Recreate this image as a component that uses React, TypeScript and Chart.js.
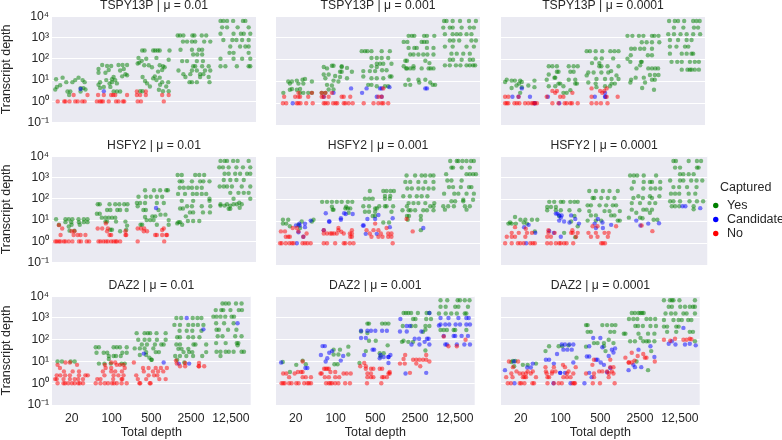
import React, { useEffect, useRef } from "react";
import { Chart, registerables } from "chart.js";

Chart.register(...registerables);

const categories = ["20", "100", "500", "2500", "12,500"];
const genes = ["TSPY13P", "HSFY2", "DAZ2"];
const mus = ["0.01", "0.001", "0.0001"];
const decades = [0.1, 1, 10, 100, 1000, 10000];
const decadeLabels = ["10⁻¹", "10⁰", "10¹", "10²", "10³", "10⁴"];
const classes = ["Yes", "Candidate", "No"];

// Each row: [transcript depth, x positions of the jittered points at that depth]
const tspy01Yes = [
  [13, -.24, .15], [11, -.4], [10, .07, .25], [8, -.15, 0, .3], [5.7, -.3], [4.8, -.38], [4.2, .2, .27], [3.6, -.42, .32], [2.9, -.12, -.05, .2], [2, -.08],
  [51, .73, 1.13, 1.23, 1.34], [46, .85, .95], [33, .64, 1.26], [30, .89], [28, 1.17], [22, .64, .81], [19, 1.3], [17, 1.34], [15, 1.22], [14, 1.01], [11, .97], [10, .83, 1.05], [8, .97, .68], [7, .91, 1.09], [6, .64], [4.8, .77, .93], [4.3, .68], [2.9, 1.01, 1.09, 1.17],
  [247, 1.71, 1.77, 1.98, 2.03, 2.09, 2.14, 2.38], [110, 1.62, 2.06], [100, 1.81], [90, 2.36], [66, 1.64], [60, 1.6], [80, 1.7], [50, 1.76, 1.87, 2.14], [45, 2.22], [40, 1.95, 2.26], [30, 2.2], [25, 2.1], [15, 2.02], [14, 1.72], [13, 2.14], [12, 1.98], [10, 2.06], [9, 1.78], [8, 2.2, 2.35], [7, 1.83], [6, 2.15], [5, 1.9, 2.3], [3.5, 2.12], [3, 1.66, 1.72, 2.22, 2.36],
  [1250, 2.58, 2.64, 2.72, 2.94, 2.99, 3.17, 3.28], [640, 2.71, 2.81, 2.93, 3.01, 3.23, 3.38], [265, 2.65, 2.93, 3.1, 3.18], [158, 2.96, 3.06, 3.18], [78, 2.69, 2.81, 3.05, 3.2], [45, 2.96, 3.01, 3.18, 3.34], [28, 2.6, 2.93, 3.05, 3.25, 3.38], [19, 2.72, 2.89, 3.13, 3.21], [14, 2.77, 3.13, 3.34], [8, 2.87, 2.93, 3.05, 3.36],
  [6000, 3.63, 3.7, 3.79, 3.94, 4.18, 4.24], [3000, 3.67, 3.79, 4.05, 4.32], [1500, 3.63, 3.95, 4.13, 4.2, 4.36], [760, 3.7, 3.92, 4.02, 4.16, 4.32], [375, 3.87, 4.11, 4.24, 4.32], [190, 3.85, 3.95, 4.32], [100, 3.63, 3.95, 4.16, 4.36], [45, 3.63, 3.75, 4.03, 4.32, 4.36],
];
const tspy01Candidate = [[3.8, .2], [3, .77]];
const tspy01No = [
  [1, -.36, -.2, -.17, -.07, .07, .13, .24, .3, .6, .67, .71, .75, .89, 1.07, 1.13, 1.24, 1.27, 1.6, 1.68, 2.24],
  [2, .03, .37, .63, .77, .95, 1, 1.05, 1.34, 1.58, 1.66, 1.8, 2.2, 2.36], [2.9, 1.58, 1.8],
];

const tspy001Yes = [
  [10, -.2, -.11], [11, .01], [12, .15], [13, .21], [10, .38], [8, -.16, .05, .17], [4.5, -.11, .09], [4.2, -.16, .01], [3, -.32, .09, .17, .29, .38],
  [53, .87, .91], [46, .67, 1.11], [40, .75], [50, 1.11], [42, 1.24], [28, 1.07, 1.11, 1.36], [21, .67, .79], [18, .95], [16, 1.07], [14, .71, 1.24], [11, .91], [10, 1.03], [7, .75], [6.5, .87], [4.3, .79, .91], [3, .62, .71],
  [247, 1.6, 1.68, 1.74, 1.84, 2.09, 2.29], [120, 1.84, 1.97, 2.09, 2.25], [65, 1.97, 2.05, 2.13, 2.33], [50, 1.84], [46, 1.97], [33, 2.1, 2.21], [30, 1.64, 1.8, 1.93], [17, 1.64, 2.29, 2.33], [14, 1.84, 1.97, 2.13], [7, 1.76, 1.84], [6, 1.97, 2.17, 2.25],
  [1250, 2.75, 2.83, 2.89, 3.13, 3.2, 3.38], [660, 2.63, 2.72, 3.07, 3.13, 3.2], [350, 2.75, 2.89, 2.95, 3.2, 3.36], [175, 2.79, 2.87, 2.99, 3.11, 3.21, 3.36], [90, 2.71, 2.67, 3.16], [70, 3.26], [50, 2.87, 2.63], [40, 2.71, 2.69, 2.79, 2.87, 3.07, 3.24, 3.36, 3.29], [12, 2.75, 2.99, 3.16], [9, 3.01, 3.28], [7, 2.79, 3.4, 3.34, 2.67],
  [6000, 3.62, 3.68, 3.83, 4.01, 4.23, 4.4], [3000, 3.6, 3.76, 3.83, 4.05, 4.25, 4.35], [1500, 3.64, 3.83, 3.93, 4.02, 4.17, 4.29], [760, 3.76, 3.85, 3.99, 4.29, 4.4], [400, 3.64, 3.83, 4.17, 4.35], [190, 3.8, 3.93, 4.09, 4.25], [100, 3.76, 3.84, 4.05, 4.25, 4.33], [55, 3.64, 3.76, 3.91, 4.02, 4.17, 4.25, 4.33, 4.38],
];
const tspy001Candidate = [
  [1, -.09], [2, .67, 1.97, 2.09], [3, .91, 1.61], [4.8, 1.34, 1.72, 2.05, 2.09], [5.5, 2.28], [4.8, 3.16, 3.2],
];
const tspy001No = [
  [1, -.33, -.25, .01, .05, .1, .24, .4, .67, .71, .77, .9, .96, 1, 1.16, 1.2, 1.28, 1.38, 1.65, 1.89, 2.01, 2.09, 2.13, 2.25],
  [2, -.3, -.03, .05, .09, .29, .62, .67, .79, 1.11, 1.16, 1.32, 2.01, 2.09], [3, .05, .38, .62, .71, .87], [4.8, 2.13],
];

const tspy0001Yes = [
  [12, -.36], [11, -.24, -.16, -.03, .32], [9.5, -.4, .01], [5, -.24], [8, -.06], [6.5, -.12, .17], [5.5, .01, .32], [3, -.03],
  [50, .76, .87, .67, 1.16, 1.28, 1.38], [28, .87, .91, 1.2, 1.28], [21, .67], [15, .83, .81], [12, .62, 1.16, 1.32], [8, .91, .95, 1.36, 1.32], [6, .83, 1.03, .67], [4, 1.2], [3, 1.03, 1.11],
  [247, 1.6, 1.68, 1.82, 1.98, 2.18, 2.28, 2.38], [115, 1.82, 1.97, 2.25], [70, 1.73, 1.91], [50, 1.91, 1.96, 2.11, 2.38], [30, 2.2], [26, 1.64, 1.77, 1.96, 2.13], [19, 2.33, 1.6], [13, 1.84, 2.05, 2.21, 2.38], [9, 1.64], [8, 1.82, 2.21, 2.29], [6, 2.05, 2.17], [5.5, 1.84],
  [1250, 2.6, 2.72, 2.88, 2.99, 3.2, 3.26, 3.36], [640, 2.95, 3.07, 3.2, 3.38], [320, 2.78, 2.91, 3.01, 3.2, 2.69], [160, 2.68, 3.1, 3.2], [110, 2.6], [80, 2.67, 2.93, 2.95], [55, 2.91], [40, 3.2, 3.11, 2.82, 3.35, 3.28], [20, 3.36, 3.27, 3.15], [15, 2.8, 3], [12, 2.69, 3.2, 3.27], [9, 2.67, 3.03], [5, 2.96], [4.2, 3.25],
  [6000, 3.62, 3.76, 3.84, 3.99, 4.21, 4.29, 4.37], [3000, 3.74, 3.97, 4.23, 4.33], [1500, 3.6, 3.74, 3.9, 4.05, 4.21, 4.38], [800, 3.64, 3.84, 4.05, 4.17], [400, 3.64, 3.8, 4.01, 4.09], [190, 3.64, 3.93, 4.05, 4.17, 4.21], [80, 3.68, 3.82, 3.93, 4.13, 4.25, 4.35], [35, 3.93, 4.13, 4.17, 4.25, 4.07, 4.35],
];
const tspy0001Candidate = [
  [1, .32, .33, .93], [2, -.22, -.07, .21, .65, 1.8, 2.05], [4.8, .01], [3, 2.05], [2, 2.06],
];
const tspy0001No = [
  [1, -.4, -.36, -.32, -.17, -.11, -.05, .09, .17, .25, .29, .33, .38, .76, .91, 1.06, 1.11, 1.2, 1.24, 1.38, 1.72, 1.84, 1.95, 2.11],
  [2, -.4, -.32, -.07, .62, .95, 1.03, 1.72, 2.36, 2.09], [3.7, .76, .87, 1.93, 2.03], [4.8, 1.72, 2.09], [3, .83, 1.25, 1.98],
];

const hsfy01Yes = [
  [11, -.4, -.17, -.09, 0, .15, .28, .37], [8, -.17, -.03, .16, .28, .37], [6, -.33, -.02, .18], [5, -.09], [3.2, -.07, .05],
  [55, .62, .67, .91, 1.05, 1.15, 1.27, 1.35], [30, 1.33, 1.17, 1.1, .93, .85], [20, .6, .67], [13, .81, .89, .97, 1.05, .72], [8.5, .85, 1.07, .81, 1.3], [5.5, 1.34], [3, 1.17], [3.5, .93, .97, 1.32],
  [250, 1.78, 2, 2.15, 2.3, 2.34], [125, 1.62, 1.8, 1.92, 2.07, 2.2], [63, 1.58, 1.66, 1.78, 2.07, 2.24], [45, 1.6], [30, 1.74, 1.8], [15, 1.96, 2.03], [30, 2.11], [10, 1.91, 1.99, 1.82, 2.36], [18, 2.16, 2.28], [6, 1.71, 1.67, 2.07, 2.36], [14, 1.78],
  [1320, 2.58, 2.68, 3.01, 3.11, 3.23], [660, 2.69, 2.63, 2.93, 3.13, 3.21, 3.36], [330, 2.63, 2.73, 2.84, 2.93, 3.05, 3.17], [170, 2.59, 2.76, 2.95, 3.17, 3.05, 3.28], [80, 3.36, 2.68, 2.96], [100, 3.36], [45, 2.81, 2.93, 3.17, 3.38], [35, 2.64, 2.71], [23, 2.88, 2.96, 3.2, 3.37], [15, 2.78], [9, 2.83, 2.96, 3.11], [8, 2.6, 2.64], [6, 2.69], [7, 2.57],
  [6000, 3.63, 3.73, 3.79, 3.94, 4.05, 4.32], [3000, 3.6, 3.69, 3.83, 4.02, 4.18, 4.36], [1500, 3.73, 3.83, 3.99, 4.11, 4.28, 4.36], [760, 3.71, 3.87, 4.02, 4.2], [380, 3.61, 3.71, 3.79, 3.91, 4.15, 4.36], [190, 3.87, 4.07, 4.2, 4.32], [100, 3.95, 4.36], [55, 3.63, 3.79, 3.95, 4.15, 4.03], [48, 3.63, 3.73, 3.87], [38, 4.1], [65, 4.09], [34, 3.83, 3.87],
];
const hsfy01Candidate = [[37, 2.05]];
const hsfy01No = [
  [1, -.42, -.38, -.33, -.29, -.21, -.17, -.09, 0, .16, .21, .35, .41, .64, .69, .76, .82, .87, .95, 1.01, 1.06, 1.09, 1.17, 1.6, 2.25],
  [2, -.29, .03, .32, .13, .2, .95, 1.3, 1.32, .91, 2.03, 2.07, 2.2, 2.3, 2.32], [3, .05, -.02, .85, 1.3, 1.83, 1.75], [4, -.25, .62, .73, .87, 1.6, 1.68, 1.76, 2.24], [5.8, -.33], [7, .82], [3.4, 2.2],
];

const hsfy001Yes = [
  [12, -.33, -.2], [8, -.33, -.25], [10, .13, .38], [12, .42], [7, .05], [5, .09], [6, -.16],
  [80, .63, .75, .87, .99, 1.11, 1.26, 1.37], [48, .87, 1.22], [35, .89, .91], [40, 1.26, 1.2, 1.32], [25, 1.28],
  [250, 1.8, 2.13, 2.21, 2.31, 2.39], [110, 1.68, 1.78, 1.87, 2.17, 2.29], [150, 2.17, 2.3], [50, 1.64, 1.78, 2.17, 2.21, 2.37, 2.03], [40, 1.97, 1.93], [28, 1.68, 1.78, 1.93, 2.33], [18, 1.93, 1.87], [9, 2.13, 2.27],
  [1300, 2.7, 2.91, 3.07, 3.16, 3.28, 3.36], [660, 2.67, 2.79, 2.99, 3.16, 3.36], [330, 2.72, 2.83, 2.99, 3.11, 3.24, 3.36], [145, 2.62, 2.78, 2.95, 3.07, 3.21], [70, 2.87, 2.75, 2.99, 3.16, 3.38], [50, 2.71, 3.28, 3.36], [33, 2.6, 2.75, 2.91, 2.8, 3.11, 3.2, 3.36], [18, 3.05, 2.71, 2.76], [12, 2.73, 3.05], [4, 3.05],
  [6000, 3.77, 3.93, 3.97, 4.07, 4.17, 4.28, 4.35], [3000, 3.8, 3.84, 4.05, 4.25], [1500, 3.67, 4.17, 4.25, 4.33, 4.4], [760, 3.7, 3.8, 4.05], [380, 3.74, 3.84, 4.03, 4.23, 4.29], [190, 3.62, 3.87, 3.97, 4.17, 4.35], [100, 4.09, 4.33], [85, 3.89, 3.8, 4.09], [50, 3.6, 3.72, 3.86, 4.13, 4.25], [35, 3.64, 4.17]
];
const hsfy001Candidate = [
  [11, .35], [8, .21], [5.5, .21], [8, .07], [6.5, -.01, .08], [3.2, .05], [2, .17], [1, .01],
  [24, .72, 1.17], [10, .8, .81], [14, 1.09], [22, 1.38, 1.21], [12, 1.09], [4, .67],
  [6.5, 1.65, 1.63], [13, 1.74, 1.93], [20, 2.01], [14, 2.36], [5.5, 2.29], [2.7, 1.7, 1.97], [5, 3.11],
];
const hsfy001No = [
  [1, -.4, -.36, -.26, -.17, -.11, -.07, .15, .21, .27, .35, .67, .75, .95, 1.16, 1.2, 1.31, 1.4, 2.36],
  [2, -.26, -.2, -.16, .17, 1.32, 1.36, 1.84, 2.01, 2.11, 2.25, 2.33], [2.8, .75, .83, .87, .92, .99, 1.31, 1.36, .67, 1.16, 1.8, 2.07, 2.25, 2.33, .25],
  [3.5, .05, -.38, -.28, 2.85], [5, -.09, .01, 2.21, 1.03], [4, .67, 1.03, 1.36, 1.72, 1.89, 2.01], [8, 1.93], [3.4, 1.1], [13, 2.7],
];

const hsfy0001Yes = [
  [16, -.16], [9, -.28, .05], [12, -.03, .09, .25, .38], [8, -.32, .13, -.24, -.14], [3.5, .32],
  [80, .67, .79, 1.01, 1.18, 1.28, 1.36, .95], [46, .62, .71, .83], [33, .62, .83, .95, 1.16, 1.4], [18, .91, 1.28], [10, 1.2], [3, 1.03], [6, 1.36], [1.9, 1.3],
  [250, 1.64, 1.8, 1.97, 2.13, 2.33], [120, 1.76, 1.72, 1.93, 2.09, 2.25], [55, 1.68, 1.6, 1.89, 2.05, 2.21, 2.29], [30, 1.64, 2.01, 2.13, 2.38], [19, 1.68, 1.8, 2.17, 2.25], [11, 1.6, 1.8, 1.93, 2.38, 2.33],
  [1300, 2.63, 2.72, 2.8, 2.96, 3.26], [660, 2.72, 2.96, 3.11, 3.16, 3.36], [330, 2.67, 2.95, 3.13, 3.24, 3.36], [145, 2.83, 3.11, 3.34], [120, 2.71, 2.94, 3.16], [70, 2.67, 2.87, 3.1, 3.24], [35, 3.16, 2.67, 2.95, 3.03], [25, 3.11, 2.78], [15, 2.6, 2.87], [14, 2.93], [12, 3.29, 3.2],
  [6000, 3.68, 3.74, 4.05, 4.25, 4.35], [3000, 3.72, 3.84, 4.25, 4.29], [1500, 3.84, 3.92, 4.05, 4.17], [760, 3.6, 3.84, 3.92, 4.11, 4.24, 4.38], [380, 3.68, 3.82, 4.01, 4.24], [190, 3.62, 3.72, 3.82, 4.05, 4.21], [85, 3.6, 3.68, 3.84, 4.07, 4.25, 4.4], [50, 3.64, 3.72, 3.82, 4.17], [36, 4.17],
];
const hsfy0001Candidate = [
  [1, .11], [5.5, .06], [3, .33], [7, .17],
  [3, .78], [2, .95], [3.7, .67], [23, .87, .83], [19, .91, .97, 1.2], [11, .91], [10, 1.03], [9, 1.16], [13, 1.3], [8, 1.39], [15, .95],
  [13, 1.85], [8, 1.77], [9, 1.96], [7, 2.17], [5, 1.8, 1.97], [50, 3.9, 3.97], [41, 4.33], [11, 2.78], [6.5, 2.88], [8, 3.07], [8.3, 3.33],
];
const hsfy0001No = [
  [1, -.4, -.24, -.09, -.03, .05, .21, .27, .32, .62, .71, .83, .91, .95, 1.03, 1.09, 1.25, 1.93, 1.97, 2.02],
  [2, -.36, -.24, .09, -.16, .62, .71, 1.32, 1.68, 1.84, 2.09], [3, -.24, -.07, .13, .25, .65, .8, 1.2, 1.24, 1.36, 1.62, 1.8, 2.01, 2.11], [5.5, -.16], [4.6, .1], [4, .65, 1.23], [6, 1.72, 1.84, 2.29], [3.6, 3.17], [6.5, 2.91],
];

const daz01Yes = [
  [10, -.36, -.25, -.03, .07],
  [45, .6, .68, 1.05, 1.13, 1.21, 1.38], [25, .62, .8, .89, 1.27, 1.38], [18, .93, 1.05, 1.11, 1.23], [8, .68, .82, .98, 1.25, 1.33], [13, .93],
  [200, 1.63, 1.83, 1.91, 1.97, 2.13, 2.36], [100, 1.67, 1.83, 1.95, 2.14, 2.36], [60, 1.76, 1.89, 2.09, 2.25, 2.31], [40, 1.58, 1.71, 1.83, 2.05], [27, 1.87, 2.11, 2.19], [20, 1.71, 1.87], [15, 1.95], [12, 2, 2.01],
  [1000, 2.63, 2.75, 3.04, 3.16, 3.26], [480, 2.58, 2.72, 2.93, 3.05, 3.17, 3.31], [260, 3.26], [260, 2.71, 2.89, 3.03], [130, 2.65, 2.72, 2.93, 3.05, 3.21], [60, 2.63, 2.72, 3.06, 3.38, 3.11], [38, 2.93, 2.68, 2.76], [27, 2.81, 2.95, 3.03, 3.38], [18, 2.6, 2.72, 2.88, 3.05, 3.28], [12, 2.65], [9, 2.83],
  [4600, 3.79, 3.87, 3.95, 4.13, 4.27], [2300, 3.62, 3.76, 3.81, 3.99, 4.2, 4.28], [1150, 3.56, 3.64, 3.74, 3.86, 4.02, 4.08], [570, 3.63, 3.83, 4.07], [285, 3.64, 3.7, 3.93, 4.14], [145, 3.67, 3.79, 4.11, 4.27], [70, 3.63, 3.87, 4.15, 4.19], [28, 3.64, 3.74, 3.87, 3.95, 4.07, 4.27, 4.33], [55, 4.17], [18, 3.74],
];
const daz01Candidate = [[1000, 2.89], [300, 3.31], [8, 2.69, 2.95], [23, 1.81], [9, 2.31], [570, 4.17]];
const daz01No = [
  [1, -.36, -.21, -.17, -.09, 0, .07, .16, .2, .28, .6, .72, .83, .91, 1.01, 1.06, 1.13, 1.25, 1.38, 1.7, 1.72, 1.96, 1.98],
  [1.55, -.38, -.42, -.21, -.05, .07, .16, .28, .64, .72, 1.04, 1.25, 1.27, 1.66, 1.87, 2.2, 2.36], [2.3, -.38, -.29, -.17, -.05, .18, .34, .4, .82, 1.05, 1.17, 1.3, 1.62, 1.93, 2.07, 2.15],
  [3.5, .78, .99, 1.09, 1.26, 1.81, 2.04, 2.17, 2.3, -.2, .02, .18], [5, -.3, .85, .99, 1.33, 1.79, 1.93, 2.11, 2.24, 2.39], [7, .13, -.36, .83, 1.13, 1.21, 1.3], [9, -.16, -.05, .99, 1.09, 1.56], [8, 2.64], [11, 2.62], [6, 2.72, 3.2, 3.19, 3.33, 2.85], [8.5, 2.85, 3.2],
];

const daz001Yes = [
  [9.5, -.33], [7, .01], [11, .17], [7.5, .25], [3.3, -.15],
  [35, .95, 1.11], [48, 1.32], [21, .95, 1.07, 1.32], [7.5, .97, 1.05],
  [550, 1.8, 1.84, 2.17, 2.25, 2.33], [240, 1.64], [90, 1.84, 2.01], [24, 2.11, 2.21], [55, 2.31], [8.5, 1.6], [30, 1.76], [17, 2.13], [205, 1.8],
  [1700, 2.71, 2.77, 2.83, 2.9, 3.07, 3.29, 3.36], [900, 2.95, 3.01, 3.28, 3.4], [430, 2.69, 2.91, 3.01, 3.26, 3.36], [290, 3.26], [230, 3.2], [80, 2.67, 2.83, 2.95], [32, 3.26], [90, 2.71],
  [6500, 3.64, 3.81, 4.07, 4.13, 4.25, 4.37], [3300, 3.64, 3.77, 4.01, 4.09, 4.33], [1600, 3.6, 3.77, 3.91, 4.05, 4.25, 4.29], [280, 3.64, 3.72, 3.8, 3.97, 4.01, 4.29],
];
const daz001Candidate = [
  [5, .24, .29], [9, -.37],
  [51, .67, .73], [25, .84], [20, .63], [14, .79], [10, .75], [30, .91], [18, 1.19], [11, 1.13],
  [260, 1.64, 1.8, 1.89, 2, 2.17, 2.29], [120, 1.64, 1.76], [35, 1.93, 1.97], [20, 1.72, 2.13, 2.38], [16, 2.33, 2.21, 2.33], [8.5, 2.33], [14, 2.11],
  [1700, 3.36], [900, 2.63], [430, 2.79, 2.87], [240, 2.62, 2.79, 3.16], [110, 2.99, 3.1, 3.3, 3.34], [60, 2.91, 3.11, 3.36], [80, 3.24], [2.8, 2.76], [3, 3.28],
  [1000, 3.64, 3.84, 4.09, 4.29, 4.35], [500, 3.64, 3.76, 3.86, 4.02, 4.13, 4.29, 4.38], [450, 3.6], [150, 3.72, 3.97, 4.01, 4.17, 4.33], [60, 3.76, 3.8, 4.05, 4.24, 4.38],
];
const daz001No = [
  [1, -.36, -.32, -.28, -.17, -.11, .01, .07, .21, .29, .33, .38, .76, .83, .87, .91, .99, 1.07, 1.24, 1.36, 1.79, 2.15],
  [1.9, -.17, .17, .25, .38, .73, .83, .99, 1.09, 1.8, 1.89, 1.95, 2.17, 2.21, 2.29], [2.8, -.32, -.24, -.03, .62, .65, 1.2, 1.28, 1.38, 1.8, 1.89, 2.33, 2.36], [3.3, .05, .13, .17, .99, .87, 2.36],
  [4.6, .71, .75, .79, .83, 1.76, 1.89, 1.95, 2.11, 2.17], [6, 1.62, 1.76], [8.5, 1.72], [10, .17], [8, 2.62, 2.74, 3.03], [13, 2.71], [20, 2.75, 3.28], [12, 2.95, 3.03, 3.11, 3.2, 3.28], [10, 3.36], [6, 3.13], [3, 2.87],
  [140, 3.72], [100, 4.27], [50, 3.84, 4.05],
];

const daz0001Yes = [
  [10.5, -.2, -.14], [7, .17, .05], [8, .38], [9.5, -.24], [6, -.17],
  [30, .62], [50, .71, .95, 1.04], [55, 1.2], [15, 1.4],
  [470, 1.64, 1.68, 2.05, 2.17, 2.29, 2.38], [230, 1.68, 1.76, 2.25, 2.35], [48, 1.64], [70, 1.84, 1.93, 2.09, 2.33], [50, 2.09], [30, 2.13], [100, 2.21],
  [1700, 2.79, 2.87, 2.96, 3.01, 3.05, 3.09], [900, 2.72, 2.83, 2.93, 3.16, 3.26, 3.38], [430, 2.88, 2.95, 3.07, 3.26, 3.4], [190, 2.59, 2.63, 2.96, 3.2, 3.36], [120, 3.01], [85, 2.75, 2.87, 3.08, 3.16, 3.22, 3.36], [10, 2.91], [4, 3.2], [30, 3.28],
  [6500, 3.6, 3.75, 3.8, 3.84, 3.99, 4.38], [3300, 3.72, 3.8, 4.01, 4.13, 4.25, 4.33, 4.38], [1600, 3.64, 3.78, 3.89, 4.09, 4.17, 4.38], [800, 3.6, 3.84, 3.97, 4.05, 4.21, 4.29], [400, 3.6, 3.68, 3.91, 3.97], [230, 3.68, 3.91, 4.25, 4.33], [85, 4.38],
];
const daz0001Candidate = [
  [1, -.16], [4, -.4], [5.3, .16, .25], [10, -.17], [8, .3],
  [1, .82, 1.25], [60, 1.03, 1.11, 1.22, 1.32], [35, 1.07, 1.17, 1.28], [12, .71, .63], [22, .91], [9, 1.32], [8, .83], [3, .99, 1.11, .99],
  [1, 1.6], [1.9, 1.78], [3, 1.72], [3.2, 2.17], [5, 2.25], [120, 1.82, 2], [50, 1.72], [17, 1.72, 1.66], [12, 1.89, 1.93], [45, 2.05], [9, 2.01], [7, 2.09], [35, 2.29], [26, 2.33], [18, 2.21], [40, 2.37],
  [50, 3.26], [35, 2.96], [16, 3.36], [4, 2.71], [7, 2.83], [5.5, 2.87, 3.03],
  [350, 4.09], [65, 3.72], [85, 3.8], [60, 3.89, 4.13], [65, 4.25], [55, 4.4],
];
const daz0001No = [
  [1, -.33, -.25, -.03, .01, .09, .29, .33, .67, .83, .95, 1.03, 1.3, 1.34, 1.36, 1.81, 1.99, 2.36],
  [1.9, -.37, -.21, .05, .09, .13, .38, .67, .71, 1.07, 1.16, 1.25, 1.84, 2.21], [2.8, -.24, -.03, .05, .13, .25, .65, .78, 1.16, 1.32, 1.64, 1.84, 2.21, 2.33],
  [3.5, -.11, .17, .3, .63, .79, .87, 1.2, 1.97, 2.05, 2.17, 2.29], [5.5, -.2, .62, .83, 1.11, 1.38, 2.25, 2.33], [10, -.3, -.07], [7, 1.06, 1.8], [12, 1.84, 2.25],
  [15, 2.63, 3.12, 3.16], [25, 2.79], [9, 2.71, 2.79], [11, 2.86], [18, 2.94], [22, 3.08], [10, 3.37], [9, 2.72],
  [100, 3.6, 4.09, 4.17], [90, 3.76], [110, 3.88, 4.25], [105, 4.29],
];

const panelData = [
  [tspy01Yes, tspy01Candidate, tspy01No], [tspy001Yes, tspy001Candidate, tspy001No], [tspy0001Yes, tspy0001Candidate, tspy0001No],
  [hsfy01Yes, hsfy01Candidate, hsfy01No], [hsfy001Yes, hsfy001Candidate, hsfy001No], [hsfy0001Yes, hsfy0001Candidate, hsfy0001No],
  [daz01Yes, daz01Candidate, daz01No], [daz001Yes, daz001Candidate, daz001No], [daz0001Yes, daz0001Candidate, daz0001No],
];

const expand = (rows: number[][]) => rows.flatMap(([y, ...xs]) => xs.map((x) => ({ x, y })));

const COLS = [52, 276, 501];
const ROWS = [16, 156, 296];
const PW = 204;
const PH = 109;
const FONT = '"Liberation Sans", Arial, sans-serif';
const INK = "#262626";
const SOLID = ["rgb(0,128,0)", "rgb(0,0,255)", "rgb(255,0,0)"];
const FILL = ["rgba(0,128,0,0.5)", "rgba(0,0,255,0.5)", "rgba(255,0,0,0.5)"];
const LEGEND_W = 77;

const bg = {
  id: "bg",
  beforeDraw(chart: any) {
    const { ctx, chartArea: a } = chart;
    ctx.save();
    ctx.fillStyle = "#EAEAF2";
    ctx.fillRect(a.left, a.top, a.right - a.left, a.bottom - a.top);
    ctx.restore();
  },
};

// The legend box is clipped to its measured width: nudge it right and open it up to the canvas edge.
const legendRoom = {
  id: "legendRoom",
  afterLayout(chart: any) {
    const box = chart.legend;
    if (box && box.options.display) {
      box.left += 2;
      box.right += 6;
      box.width += 4;
    }
  },
};

function Panel({ row, col }: { row: number; col: number }) {
  const ref = useRef<HTMLCanvasElement>(null);
  const first = col === 0;
  const last = row === 2;
  const hasLegend = row === 1 && col === 2;
  const left = first ? 0 : COLS[col];
  const top = ROWS[row] - 16;
  const width = (first ? COLS[0] : 0) + PW + (hasLegend ? LEGEND_W : 0);
  const height = last ? 440 - top : 16 + PH + 8;

  useEffect(() => {
    const chart = new Chart(ref.current as HTMLCanvasElement, {
      type: "scatter",
      data: {
        datasets: classes.map((label, i) => ({
          label,
          data: expand(panelData[row * 3 + col][i]),
          backgroundColor: FILL[i],
          borderWidth: 0,
          pointRadius: 2.2,
          order: 3 - i,
        })),
      },
      plugins: [bg, legendRoom],
      options: {
        animation: false,
        responsive: false,
        layout: { autoPadding: false, padding: { bottom: last ? 0 : 8, right: hasLegend ? 6 : 0 } },
        plugins: {
          tooltip: { enabled: false },
          title: {
            display: true,
            fullSize: false,
            text: `${genes[row]} | μ = ${mus[col]}`,
            color: INK,
            font: { family: FONT, size: 12.2, lineHeight: 1, weight: "normal" },
            padding: { top: 0, bottom: 4 },
          },
          legend: hasLegend
            ? {
                display: true,
                position: "right",
                title: { display: true, text: "Captured", color: INK, font: { family: FONT, size: 12.5 }, padding: { top: 18, bottom: 1 } },
                labels: {
                  usePointStyle: true,
                  pointStyle: "circle",
                  boxWidth: 10,
                  boxHeight: 3.8,
                  padding: 1.5,
                  color: INK,
                  font: { family: FONT, size: 12.5 },
                  generateLabels: () =>
                    classes.map((text, i) => ({ text, fillStyle: SOLID[i], strokeStyle: SOLID[i], lineWidth: 0, pointStyle: "circle", fontColor: INK, datasetIndex: i })),
                },
              }
            : { display: false },
        },
        scales: {
          x: {
            type: "linear",
            min: -0.5,
            max: 4.5,
            display: last,
            grid: { display: false, drawTicks: false },
            border: { display: false },
            afterBuildTicks: (s: any) => {
              s.ticks = categories.map((_, i) => ({ value: i }));
            },
            afterFit: (s: any) => {
              s.height = last ? 35 : 0;
            },
            ticks: {
              autoSkip: false,
              maxRotation: 0,
              color: INK,
              padding: 6,
              font: { family: FONT, size: 12.2 },
              callback: (v: any) => categories[v as number],
            },
            title: { display: true, text: "Total depth", color: INK, font: { family: FONT, size: 12.5, lineHeight: 1 }, padding: { top: 0, bottom: 1 } },
          },
          y: {
            type: "logarithmic",
            min: 0.1,
            max: 10000,
            grid: { color: "#FFFFFF", lineWidth: 1, drawTicks: false },
            border: { display: false },
            afterBuildTicks: (s: any) => {
              s.ticks = decades.map((value) => ({ value, major: true }));
            },
            afterFit: (s: any) => {
              s.width = first ? COLS[0] : 0;
            },
            ticks: {
              display: first,
              autoSkip: false,
              color: INK,
              padding: 3,
              font: { family: FONT, size: 12.2 },
              callback: (v: any) => decadeLabels[decades.indexOf(v as number)],
            },
            title: { display: first, text: "Transcript depth", color: INK, font: { family: FONT, size: 12.5, lineHeight: 1 }, padding: 0 },
          },
        },
      },
    } as any);
    return () => chart.destroy();
  }, []);

  return <canvas ref={ref} width={width} height={height} style={{ position: "absolute", left, top, width, height }} />;
}

export default function App() {
  const cells = [0, 1, 2].flatMap((row) => [0, 1, 2].map((col) => ({ row, col })));
  return (
    <div style={{ position: "absolute", left: 0, top: 0, width: 782, height: 440, overflow: "hidden", background: "#fff" }}>
      {cells.map(({ row, col }) => (
        <Panel key={`${row}-${col}`} row={row} col={col} />
      ))}
    </div>
  );
}
